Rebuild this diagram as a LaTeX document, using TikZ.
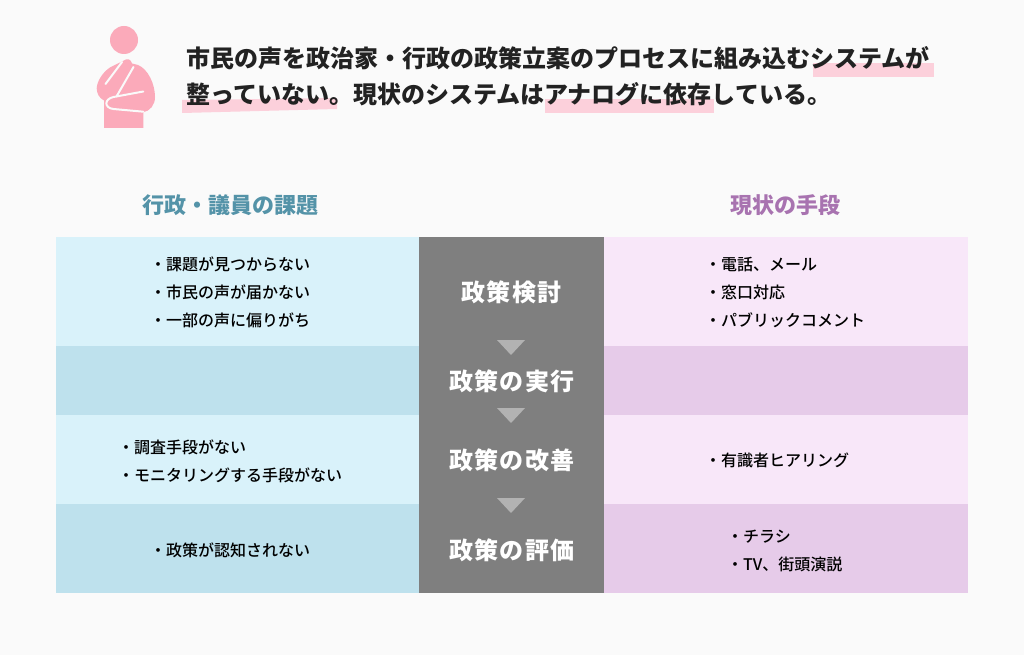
\documentclass[tikz,border=0pt]{standalone}
\usepackage{fontspec}
\setmainfont{Noto Sans CJK JP}
\newfontfamily\medfont{Noto Sans CJK JP Medium}
\usetikzlibrary{positioning}
\definecolor{PageBg}{RGB}{250,250,250}
\definecolor{InkDark}{RGB}{34,34,34}
\definecolor{MarkPink}{RGB}{252,208,219}
\definecolor{FigPink}{RGB}{251,170,186}
\definecolor{BlueLight}{RGB}{217,242,250}
\definecolor{BlueDark}{RGB}{190,225,237}
\definecolor{PinkLight}{RGB}{248,231,249}
\definecolor{PinkDark}{RGB}{230,203,233}
\definecolor{StageGray}{RGB}{127,127,127}
\definecolor{TriGray}{RGB}{178,178,178}
\definecolor{HeadBlue}{RGB}{84,147,168}
\definecolor{HeadPurple}{RGB}{168,115,176}

\begin{document}
\begin{tikzpicture}[
          x=1pt, y=-1pt,
          cell/.style={rectangle, inner sep=0pt, outer sep=0pt, minimum height=#1},
          cellside/.style={cell=#1, minimum width=364pt},
          stage/.style={inner sep=0pt, text=white, font=\fontsize{24}{28}\selectfont\bfseries\addfontfeature{LetterSpace=5}},
          lead/.style={inner sep=0pt, anchor=base west, text=InkDark, font=\fontsize{24}{24}\selectfont\bfseries},
          head/.style={inner sep=0pt, font=\fontsize{22}{26}\selectfont\bfseries},
          items/.style={inner sep=0pt, anchor=west, align=left, text=black, font=\fontsize{16}{28}\medfont}
        ]
        \useasboundingbox (0,0) rectangle (1024,655);
        \fill[PageBg] (0,0) rectangle (1024,655);

        % Figure
        \fill[FigPink] (124,40) circle (14);
        \fill[FigPink] (124,60.5) .. controls (127,58) and (131,59) .. (132,63.5)
              -- (138,65) .. controls (148,69) and (155,84) .. (155,97)
              .. controls (155,105) and (150,111) .. (143.3,112.3) -- (143.3,128) -- (104,128)
              -- (104,100.5) .. controls (99,98) and (96.7,93) .. (96.7,88.3)
              .. controls (97,81) and (103,72) .. (110,67.5) -- cycle;
        \draw[PageBg, line width=2pt, line cap=round] (122,62) -- (105.5,84);
        \draw[PageBg, line width=2pt, line cap=round, line join=round]
              (133.5,67) -- (116.5,96.5);
        \draw[PageBg, line width=2pt, line cap=round]
              (143.3,91.5) -- (113.5,97) .. controls (104,99) and (104,108) .. (113.5,109) -- (143.3,111.7);

        % Highlights
        \fill[MarkPink] (813,63) rectangle (934,77);
        \fill[MarkPink] (182,100) -- (337,98) -- (337,109) -- (182,113) -- cycle;
        \fill[MarkPink] (545,99) rectangle (714,113);

        % Lead text
        \node[lead] (line1) at (186,68) {市民の声を政治家・行政の政策立案のプロセスに組み込むシステムが};
        \node[lead] (line2) at (186,104) {整っていない。現状のシステムはアナログに依存している。};

        % Column heads
        \node[head, text=HeadBlue] (headl) at (230,205.5) {行政・議員の課題};
        \node[head, text=HeadPurple] (headr) at (785,205.5) {現状の手段};

        % Left column
        \node[cellside=109pt, fill=BlueLight] (l1) at (237.5,291.5) {};
        \node[cellside=69pt, fill=BlueDark] (l2) at (237.5,380.5) {};
        \node[cellside=89pt, fill=BlueLight] (l3) at (237.5,459.5) {};
        \node[cellside=89pt, fill=BlueDark] (l4) at (237.5,548.5) {};

        % Right column
        \node[cellside=109pt, fill=PinkLight] (r1) at (786,291.5) {};
        \node[cellside=69pt, fill=PinkDark] (r2) at (786,380.5) {};
        \node[cellside=89pt, fill=PinkLight] (r3) at (786,459.5) {};
        \node[cellside=89pt, fill=PinkDark] (r4) at (786,548.5) {};

        % Centre column
        \node[cell=356pt, minimum width=185pt, fill=StageGray] (mid) at (511.5,415) {};
        \node[stage] (s1) at (511.5,292.5) {政策検討};
        \node[stage] (s2) at (512,381.5) {政策の実行};
        \node[stage] (s3) at (512,460.5) {政策の改善};
        \node[stage] (s4) at (512,550) {政策の評価};
        \foreach \ty in {340,408,498}
          \fill[TriGray] (497,\ty) -- (525,\ty) -- (511,\ty+15) -- cycle;

        % Items
        \node[items] (i1) at (150,292.5) {・課題が見つからない\\・市民の声が届かない\\・一部の声に偏りがち};
        \node[items] (i2) at (118,461.5) {・調査手段がない\\・モニタリングする手段がない};
        \node[items] (i3) at (150,550.5) {・政策が認知されない};
        \node[items] (i4) at (705,292.5) {・電話、メール\\・窓口対応\\・パブリックコメント};
        \node[items] (i5) at (705,460.5) {・有識者ヒアリング};
        \node[items] (i6) at (727,550.5) {・チラシ\\・TV、街頭演説};
      \end{tikzpicture}
\end{document}
